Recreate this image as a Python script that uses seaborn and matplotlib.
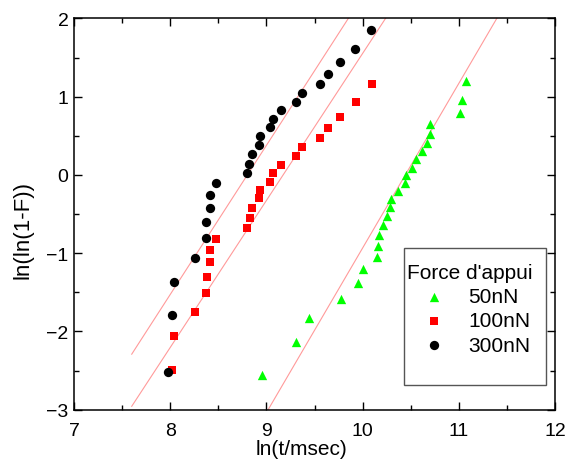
import matplotlib
matplotlib.use("Agg")
import matplotlib.pyplot as plt
import seaborn as sns
import numpy as np
from matplotlib.patches import Rectangle
from matplotlib.ticker import MultipleLocator

# ln(t/msec) and ln(ln(1-F)) for each applied force
x_50 = [11.07, 11.033, 11.016, 10.70, 10.70, 10.666, 10.617, 10.555, 10.514,
        10.454, 10.44, 10.371, 10.30, 10.288, 10.25, 10.209, 10.174, 10.157,
        10.15, 10.007, 9.952, 9.778, 9.44, 9.304, 8.951]
y_50 = [1.20, 0.962, 0.795, 0.651, 0.519, 0.408, 0.302, 0.199, 0.092,
        -0.005, -0.107, -0.21, -0.312, -0.414, -0.526, -0.645, -0.772, -0.905,
        -1.046, -1.203, -1.378, -1.587, -1.83, -2.137, -2.563]

x_100 = [10.094, 9.931, 9.765, 9.637, 9.56, 9.37, 9.311, 9.149, 9.072, 9.034,
         8.933, 8.926, 8.847, 8.83, 8.80, 8.476, 8.41, 8.41, 8.379, 8.369,
         8.255, 8.04, 8.022]
y_100 = [1.166, 0.928, 0.745, 0.604, 0.472, 0.353, 0.242, 0.131, 0.02, -0.087,
         -0.193, -0.295, -0.427, -0.551, -0.679, -0.816, -0.96, -1.118, -1.30, -1.51,
         -1.753, -2.06, -2.49]

x_300 = [10.087, 9.92, 9.765, 9.637, 9.56, 9.37, 9.311, 9.149, 9.072, 9.034,
         8.933, 8.926, 8.847, 8.822, 8.80, 8.476, 8.414, 8.414, 8.375, 8.369,
         8.258, 8.036, 8.022, 7.974]
y_300 = [1.853, 1.614, 1.44, 1.294, 1.166, 1.043, 0.932, 0.826, 0.719, 0.609,
         0.497, 0.382, 0.267, 0.143, 0.02, -0.107, -0.257, -0.423, -0.602, -0.811,
         -1.067, -1.37, -1.795, -2.517]

# linear fits (slope, intercept) drawn as thin lines
fit_slopes = [1.906, 1.879, 2.104]
fit_intercepts = [-16.776, -17.237, -21.974]
fit_x = [7.6, 12.0]

plt.rcParams['font.family'] = ['Liberation Sans', 'DejaVu Sans']

fig = plt.figure(figsize=(5.68, 4.64), dpi=100)
ax = fig.add_axes([0.1303, 0.1149, 0.8468, 0.8431])

for a, b in zip(fit_slopes, fit_intercepts):
    xx = np.array(fit_x)
    ax.plot(xx, a * xx + b, color='#ff9a9a', lw=0.8, zorder=1)

sns.scatterplot(x=x_50, y=y_50, ax=ax, marker='^', color='#00ff00', s=45,
                linewidth=0, label='50nN', zorder=3)
sns.scatterplot(x=x_100, y=y_100, ax=ax, marker='s', color='#ff0000', s=30,
                linewidth=0, label='100nN', zorder=3)
sns.scatterplot(x=x_300, y=y_300, ax=ax, marker='o', color='black', s=45,
                linewidth=0, label='300nN', zorder=4)

ax.set_xlim(7, 12)
ax.set_ylim(-3, 2)
ax.xaxis.set_major_locator(MultipleLocator(1))
ax.xaxis.set_minor_locator(MultipleLocator(0.5))
ax.yaxis.set_major_locator(MultipleLocator(1))
ax.yaxis.set_minor_locator(MultipleLocator(0.5))
ax.tick_params(which='both', direction='in', top=True, right=True,
               width=1, labelsize=14)
ax.tick_params(axis='x', pad=9)
ax.tick_params(axis='y', pad=4)
ax.tick_params(which='major', length=5.5)
ax.tick_params(which='minor', length=3.5)
for sp in ax.spines.values():
    sp.set_linewidth(1.1)

ax.set_xlabel('ln(t/msec)', fontsize=15)
ax.xaxis.set_label_coords(0.472, -0.076)
ax.set_ylabel('ln(ln(1-F))', fontsize=16)
ax.yaxis.set_label_coords(-0.085, 0.461)

# legend box
ax.add_patch(Rectangle((0.686, 0.063), 0.295, 0.350, transform=ax.transAxes,
                       facecolor='white', edgecolor='#555555', lw=1.0, zorder=5))
leg = ax.legend(title="Force d'appui", loc='upper left',
                bbox_to_anchor=(0.692, 0.375), borderaxespad=0, borderpad=0,
                fontsize=15, title_fontsize=15, frameon=False,
                handlelength=2.6, handletextpad=0.35, labelspacing=0.25)
leg.set_zorder(6)
leg._legend_box.align = 'left'

fig.savefig('out.png', dpi=100)
